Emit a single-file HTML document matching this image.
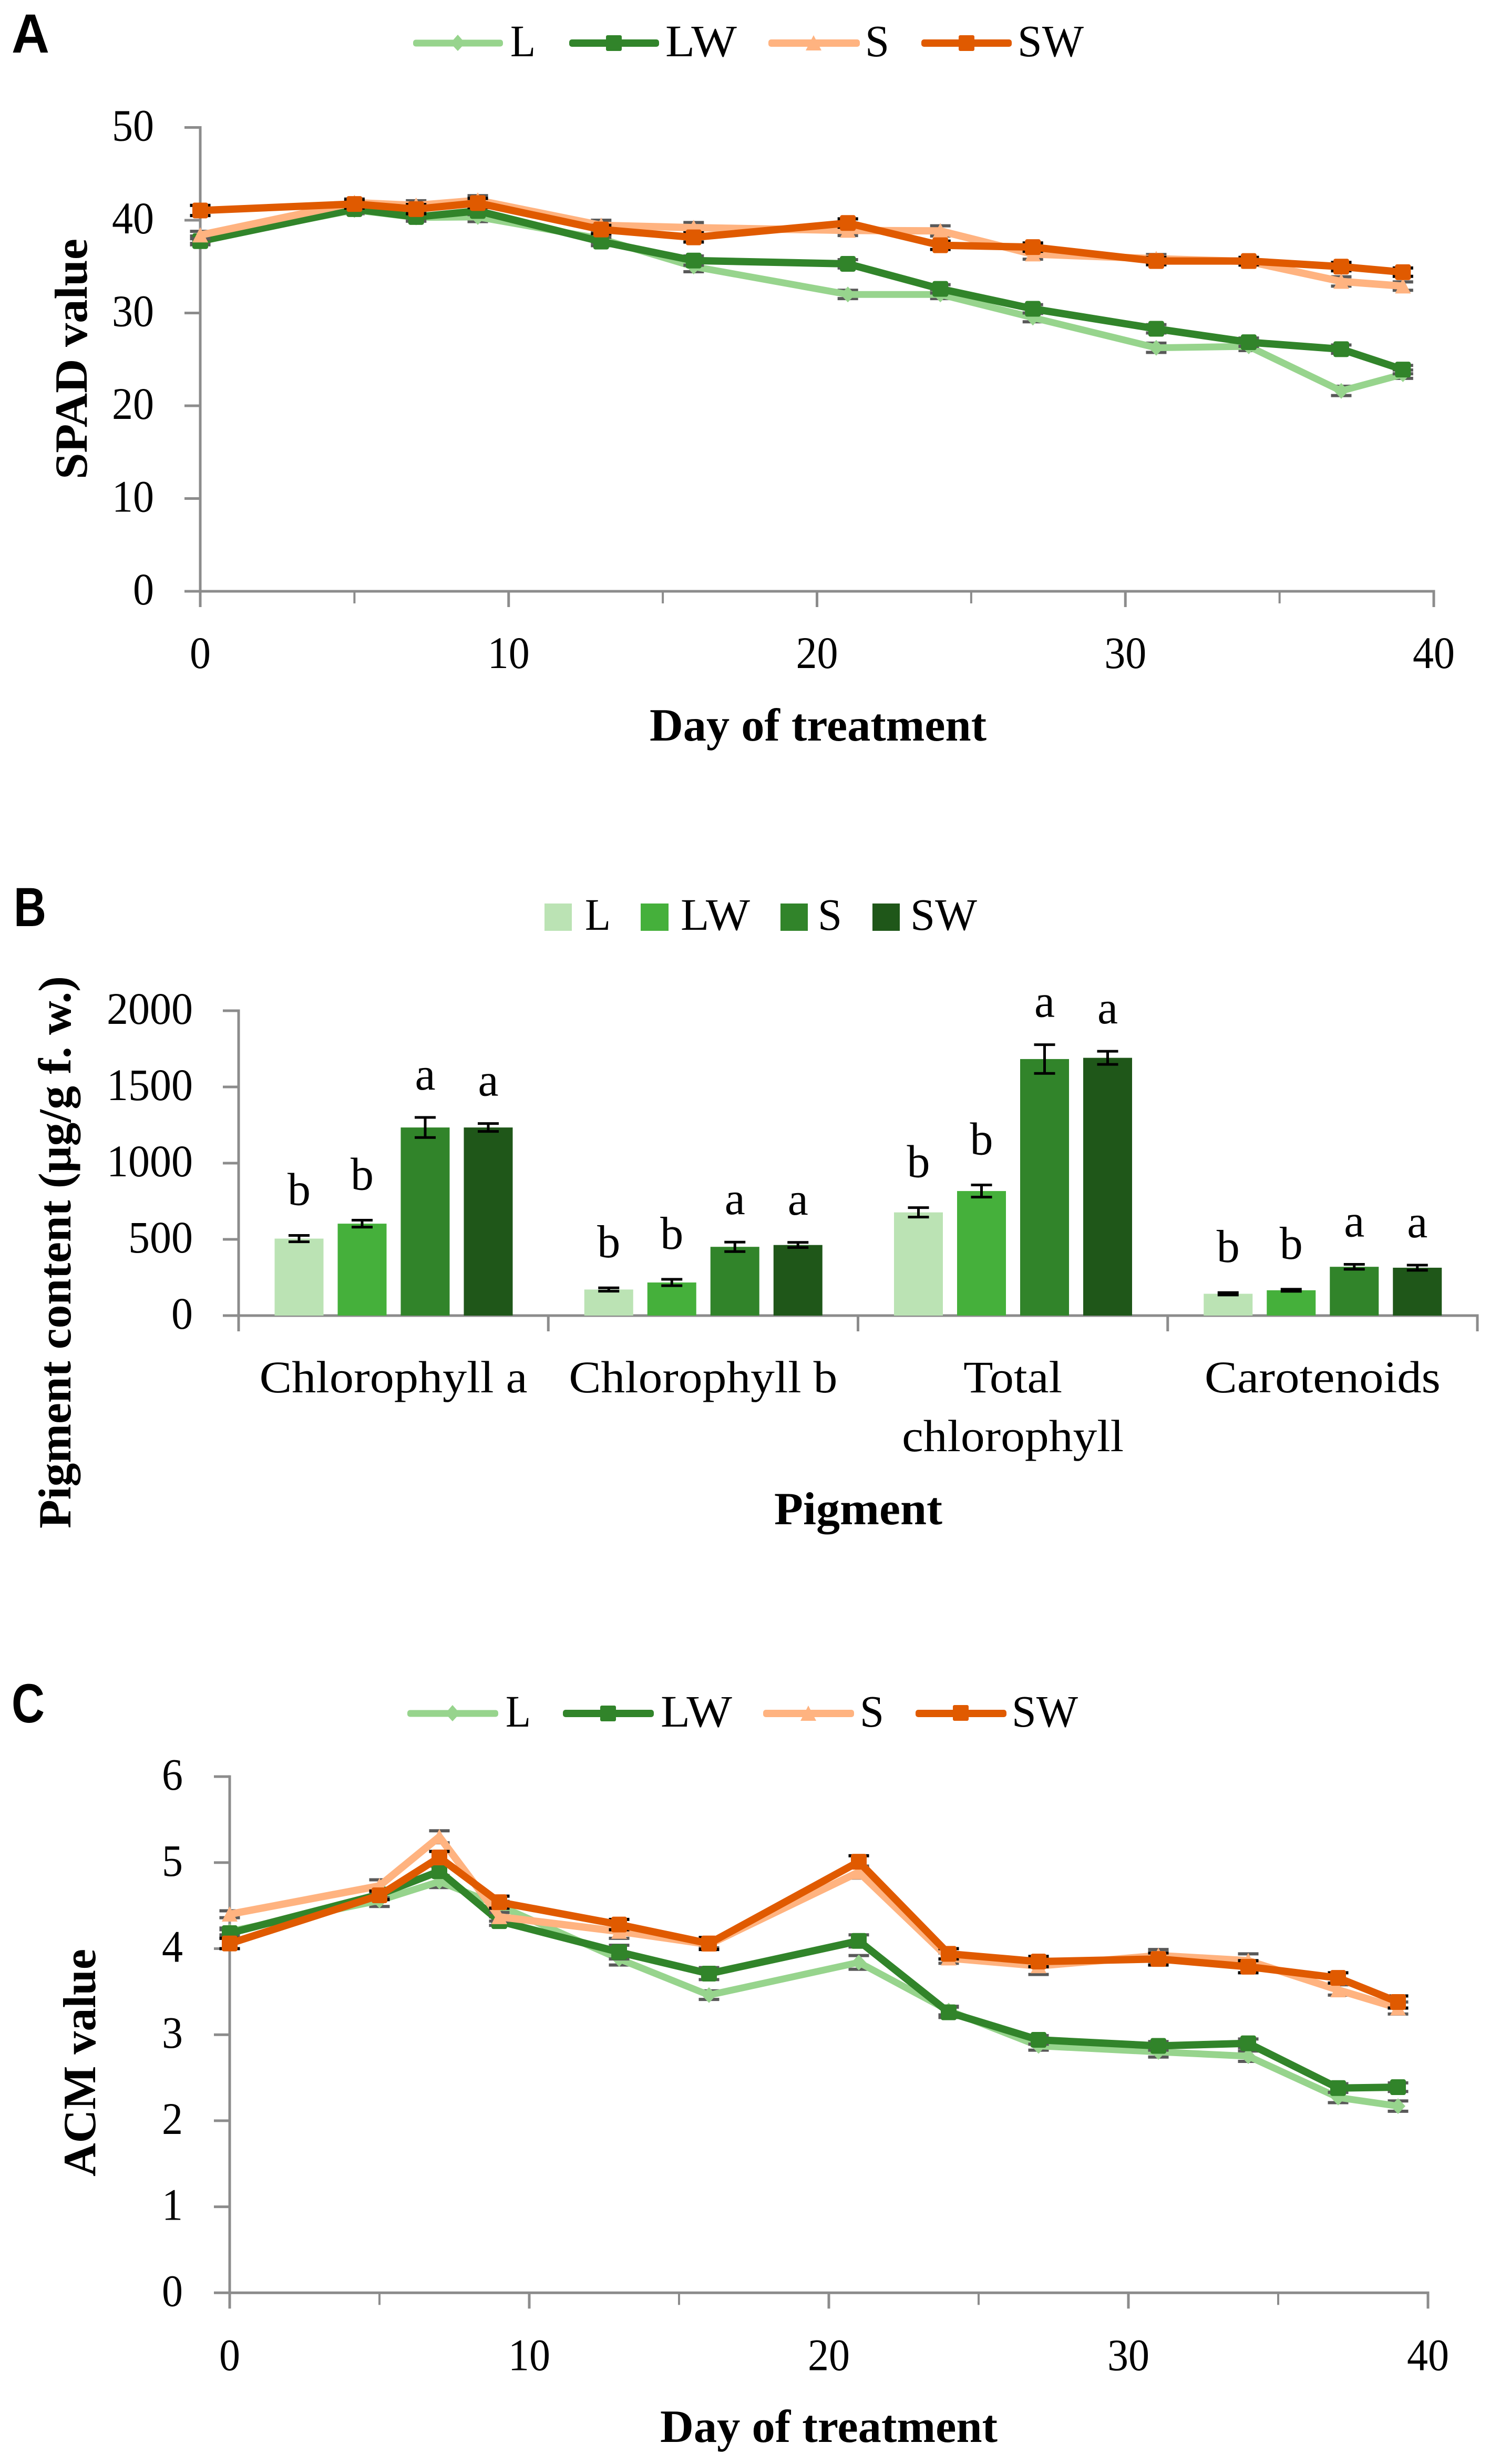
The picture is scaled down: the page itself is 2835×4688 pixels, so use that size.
<!DOCTYPE html>
<html lang="en">
<head>
<meta charset="utf-8">
<title>SPAD value, pigment content and ACM value by treatment</title>
<style>
html,body{margin:0;padding:0;background:#fff;}
svg{display:block;}
text{font-family:"Liberation Serif",serif;fill:#000;}
.panel-letter{font-family:"Liberation Sans",sans-serif;font-weight:700;font-size:105px;}
.axis-title{font-weight:700;font-size:88px;}
.legend-text,.tick-text{font-size:86px;}
</style>
</head>
<body>
<svg xmlns="http://www.w3.org/2000/svg" width="2835" height="4688" viewBox="0 0 2835 4688">
<rect width="2835" height="4688" fill="#fff"/>

<g id="panelA">
  <text class="panel-letter" x="22" y="100" textLength="72" lengthAdjust="spacingAndGlyphs">A</text>
  <g>
    <g>
      <rect x="786" y="75.5" width="171" height="13" rx="5" fill="#97d48d"/>
      <polygon points="871,66 885,82 871,97 857,82" fill="#97d48d"/>
      <text class="legend-text" x="971" y="107" textLength="48" lengthAdjust="spacingAndGlyphs">L</text>
    </g>
    <g>
      <rect x="1083" y="75" width="171" height="14" rx="5" fill="#31842a"/>
      <rect x="1153" y="67" width="30" height="30" rx="3" fill="#31842a"/>
      <text class="legend-text" x="1266" y="107" textLength="136" lengthAdjust="spacingAndGlyphs">LW</text>
    </g>
    <g>
      <rect x="1462" y="75" width="174" height="14" rx="5" fill="#ffb380"/>
      <polygon points="1548,67 1563,96 1533,96" fill="#ffb380"/>
      <text class="legend-text" x="1646" y="107" textLength="46" lengthAdjust="spacingAndGlyphs">S</text>
    </g>
    <g>
      <rect x="1753" y="75" width="172" height="14" rx="5" fill="#e05a00"/>
      <rect x="1824" y="67" width="30" height="30" rx="3" fill="#e05a00"/>
      <text class="legend-text" x="1936" y="107" textLength="126" lengthAdjust="spacingAndGlyphs">SW</text>
    </g>
  </g>
  <text class="axis-title" transform="translate(165,912) rotate(-90)" textLength="458" lengthAdjust="spacingAndGlyphs">SPAD value</text>
  <text class="axis-title" x="1236" y="1409" textLength="641" lengthAdjust="spacingAndGlyphs">Day of treatment</text>
</g>

<g id="panelB">
  <text class="panel-letter" x="26" y="1762" textLength="62" lengthAdjust="spacingAndGlyphs">B</text>
  <g>
    <g>
      <rect x="1036" y="1719" width="52" height="52" fill="#bbe3b4"/>
      <text class="legend-text" x="1113" y="1769" textLength="49" lengthAdjust="spacingAndGlyphs">L</text>
    </g>
    <g>
      <rect x="1219" y="1719" width="53" height="52" fill="#45b03b"/>
      <text class="legend-text" x="1295" y="1769" textLength="132" lengthAdjust="spacingAndGlyphs">LW</text>
    </g>
    <g>
      <rect x="1485" y="1719" width="52" height="52" fill="#31842a"/>
      <text class="legend-text" x="1556" y="1769" textLength="46" lengthAdjust="spacingAndGlyphs">S</text>
    </g>
    <g>
      <rect x="1660" y="1719" width="52" height="52" fill="#1f5719"/>
      <text class="legend-text" x="1732" y="1769" textLength="127" lengthAdjust="spacingAndGlyphs">SW</text>
    </g>
  </g>
  <text class="axis-title" transform="translate(134,2908) rotate(-90)" textLength="1051" lengthAdjust="spacingAndGlyphs">Pigment content (μg/g f. w.)</text>
  <text class="axis-title" x="1473" y="2900" textLength="320" lengthAdjust="spacingAndGlyphs">Pigment</text>
</g>

<g id="panelC">
  <text class="panel-letter" x="22" y="3277" textLength="63" lengthAdjust="spacingAndGlyphs">C</text>
  <g>
    <g>
      <rect x="775" y="3253.5" width="173" height="13" rx="5" fill="#97d48d"/>
      <polygon points="861,3244 875,3260 861,3275 847,3260" fill="#97d48d"/>
      <text class="legend-text" x="962" y="3285" textLength="48" lengthAdjust="spacingAndGlyphs">L</text>
    </g>
    <g>
      <rect x="1071" y="3253" width="173" height="14" rx="5" fill="#31842a"/>
      <rect x="1142" y="3245" width="30" height="30" rx="3" fill="#31842a"/>
      <text class="legend-text" x="1257" y="3285" textLength="136" lengthAdjust="spacingAndGlyphs">LW</text>
    </g>
    <g>
      <rect x="1452" y="3253" width="173" height="14" rx="5" fill="#ffb380"/>
      <polygon points="1538,3245 1553,3274 1523,3274" fill="#ffb380"/>
      <text class="legend-text" x="1636" y="3285" textLength="46" lengthAdjust="spacingAndGlyphs">S</text>
    </g>
    <g>
      <rect x="1742" y="3253" width="173" height="14" rx="5" fill="#e05a00"/>
      <rect x="1813" y="3244" width="30" height="30" rx="3" fill="#e05a00"/>
      <text class="legend-text" x="1925" y="3285" textLength="126" lengthAdjust="spacingAndGlyphs">SW</text>
    </g>
  </g>
  <text class="axis-title" transform="translate(181,4141) rotate(-90)" textLength="433" lengthAdjust="spacingAndGlyphs">ACM value</text>
  <text class="axis-title" x="1256" y="4646" textLength="642" lengthAdjust="spacingAndGlyphs">Day of treatment</text>
</g>
</svg>

<script>
// ---- Panel A: SPAD value ----
const spadDays = [0, 5, 7, 9, 13, 16, 21, 24, 27, 31, 34, 37, 39];
const spadL  = [37.9, 41.1, 40.3, 40.35, 38.0, 35.0, 32.0, 32.0, 29.5, 26.25, 26.4, 21.6, 23.4];
const spadLW = [37.75, 41.2, 40.35, 41.0, 37.7, 35.65, 35.3, 32.6, 30.45, 28.3, 26.85, 26.1, 23.9];
const spadS  = [38.4, 41.9, 41.6, 42.15, 39.45, 39.2, 38.9, 38.85, 36.35, 35.85, 35.55, 33.4, 32.9];
const spadSW = [41.05, 41.75, 41.2, 41.85, 39.0, 38.15, 39.7, 37.3, 37.1, 35.6, 35.6, 35.0, 34.4];
const spadErrL  = [0.4, 0.4, 0.4, 0.5, 0.4, 0.55, 0.45, 0.45, 0.45, 0.5, 0.45, 0.5, 0.45];
const spadErrLW = [0.4, 0.4, 0.45, 0.4, 0.45, 0.5, 0.45, 0.45, 0.45, 0.45, 0.45, 0.45, 0.45];
const spadErrS  = [0.4, 0.4, 0.5, 0.5, 0.55, 0.55, 0.55, 0.55, 0.55, 0.45, 0.4, 0.5, 0.45];
const spadErrSW = [0.55, 0.45, 0.5, 0.5, 0.45, 0.5, 0.45, 0.45, 0.45, 0.4, 0.4, 0.45, 0.45];
const spadYTicks = [0, 10, 20, 30, 40, 50];
const spadXTicks = [0, 10, 20, 30, 40];
const spadXMinorTicks = [5, 15, 25, 35];

// ---- Panel B: pigment content ----
const pigmentCategoryLines = [['Chlorophyll a'], ['Chlorophyll b'], ['Total', 'chlorophyll'], ['Carotenoids']];
const pigmentL  = [505, 171, 677, 143];
const pigmentLW = [603, 217, 817, 166];
const pigmentS  = [1234, 451, 1683, 320];
const pigmentSW = [1234, 463, 1691, 314];
const pigmentErrL  = [21, 11, 31, 8];
const pigmentErrLW = [23, 21, 40, 7];
const pigmentErrS  = [66, 31, 94, 16];
const pigmentErrSW = [26, 17, 43, 17];
const pigmentLettersL  = ['b', 'b', 'b', 'b'];
const pigmentLettersLW = ['b', 'b', 'b', 'b'];
const pigmentLettersS  = ['a', 'a', 'a', 'a'];
const pigmentLettersSW = ['a', 'a', 'a', 'a'];
const pigmentYTicks = [0, 500, 1000, 1500, 2000];

// ---- Panel C: ACM value ----
const acmDays = [0, 5, 7, 9, 13, 16, 21, 24, 27, 31, 34, 37, 39];
const acmL  = [4.20, 4.56, 4.78, 4.50, 3.88, 3.46, 3.84, 3.28, 2.87, 2.80, 2.75, 2.27, 2.17];
const acmLW = [4.18, 4.63, 4.90, 4.32, 3.96, 3.71, 4.09, 3.26, 2.94, 2.87, 2.90, 2.38, 2.39];
const acmS  = [4.40, 4.73, 5.30, 4.37, 4.20, 4.05, 4.89, 3.89, 3.80, 3.92, 3.86, 3.52, 3.31];
const acmSW = [4.06, 4.62, 5.06, 4.54, 4.28, 4.06, 5.01, 3.94, 3.85, 3.88, 3.79, 3.66, 3.38];
const acmErrL  = [0.04, 0.07, 0.07, 0.05, 0.07, 0.05, 0.08, 0.05, 0.05, 0.06, 0.06, 0.06, 0.06];
const acmErrLW = [0.04, 0.04, 0.06, 0.05, 0.08, 0.07, 0.07, 0.06, 0.05, 0.05, 0.05, 0.05, 0.05];
const acmErrS  = [0.04, 0.07, 0.07, 0.05, 0.08, 0.04, 0.07, 0.06, 0.1, 0.07, 0.08, 0.06, 0.07];
const acmErrSW = [0.06, 0.05, 0.07, 0.07, 0.06, 0.07, 0.07, 0.06, 0.06, 0.07, 0.07, 0.06, 0.07];
const acmYTicks = [0, 1, 2, 3, 4, 5, 6];
const acmXTicks = [0, 10, 20, 30, 40];
const acmXMinorTicks = [5, 15, 25, 35];

const NS = 'http://www.w3.org/2000/svg';
const AXIS_COLOR = '#8c8c8c';
const GRAY_ERR = '#595959';

function svgEl(tag, attrs, parent) {
  const el = document.createElementNS(NS, tag);
  for (const k in attrs) el.setAttribute(k, attrs[k]);
  parent.appendChild(el);
  return el;
}

function drawYAxis(parent, ticks, axisX, labelRight, yScale, digitWidth) {
  const axis = svgEl('line', {x1: axisX, x2: axisX, y1: yScale(ticks[ticks.length - 1]) - 2.5, y2: yScale(ticks[0]), stroke: AXIS_COLOR, 'stroke-width': 5}, parent);
  
  
  ticks.forEach(function (t) {
    const y = yScale(t);
    const tick = svgEl('line', {x1: axisX - 30, x2: axisX, y1: y, y2: y, stroke: AXIS_COLOR, 'stroke-width': 5}, parent);
    
    
    const s = String(t);
    const label = svgEl('text', {'class': 'tick-text', x: labelRight, y: y + 25, 'text-anchor': 'end', textLength: s.length * digitWidth, lengthAdjust: 'spacingAndGlyphs'}, parent);
    
    
    label.textContent = s;
  });
}

function drawXAxis(parent, ticks, minor, axisY, xScale, labelY) {
  const axis = svgEl('line', {x1: xScale(ticks[0]), x2: xScale(ticks[ticks.length - 1]) + 2.5, y1: axisY, y2: axisY, stroke: AXIS_COLOR, 'stroke-width': 5}, parent);
  
  
  ticks.forEach(function (t) {
    const x = xScale(t);
    const tick = svgEl('line', {x1: x, x2: x, y1: axisY, y2: axisY + 30, stroke: AXIS_COLOR, 'stroke-width': 5}, parent);
    
    
    const s = String(t);
    const label = svgEl('text', {'class': 'tick-text', x: x, y: labelY, 'text-anchor': 'middle', textLength: s.length * 40, lengthAdjust: 'spacingAndGlyphs'}, parent);
    
    
    label.textContent = s;
  });
  minor.forEach(function (t) {
    const x = xScale(t);
    const tick = svgEl('line', {x1: x, x2: x, y1: axisY, y2: axisY + 23, stroke: AXIS_COLOR, 'stroke-width': 4}, parent);
    
    
  });
}

function drawSeries(parent, days, values, errors, shape, color, width, errColor, xScale, yScale) {
  const group = svgEl('g', {}, parent);
  
  
  days.forEach(function (d, i) {
    const x = xScale(d);
    const top = yScale(values[i] + errors[i]);
    const bottom = yScale(values[i] - errors[i]);
    const err = svgEl('path', {d: 'M' + (x - 19.5) + ' ' + top + 'H' + (x + 19.5) + 'M' + (x - 19.5) + ' ' + bottom + 'H' + (x + 19.5) + 'M' + x + ' ' + top + 'V' + bottom, stroke: errColor, 'stroke-width': 6, fill: 'none'}, group);
    
    
  });
  const pts = days.map(function (d, i) { return xScale(d) + ',' + yScale(values[i]); }).join(' ');
  const line = svgEl('polyline', {points: pts, fill: 'none', stroke: color, 'stroke-width': width, 'stroke-linejoin': 'round', 'stroke-linecap': 'round'}, group);
  
  
  days.forEach(function (d, i) {
    const x = xScale(d);
    const y = yScale(values[i]);
    let marker;
    if (shape === 'diamond') {
      marker = svgEl('polygon', {points: x + ',' + (y - 15) + ' ' + (x + 14) + ',' + y + ' ' + x + ',' + (y + 15) + ' ' + (x - 14) + ',' + y, fill: color}, group);
    } else if (shape === 'triangle') {
      marker = svgEl('polygon', {points: x + ',' + (y - 15) + ' ' + (x + 15) + ',' + (y + 14) + ' ' + (x - 15) + ',' + (y + 14), fill: color}, group);
    } else {
      marker = svgEl('rect', {x: x - 15, y: y - 15, width: 30, height: 30, rx: 4, fill: color}, group);
    }
    
    
  });
}

function drawBarSeries(parent, values, errors, letters, slot, color, xScale, yScale) {
  values.forEach(function (v, i) {
    const x = xScale(i, slot);
    const y = yScale(v);
    const bar = svgEl('rect', {x: x, y: y, width: 93, height: yScale(0) - y, fill: color}, parent);
    
    
    const cx = x + 46.5;
    const top = yScale(v + errors[i]);
    const bottom = yScale(v - errors[i]);
    const err = svgEl('path', {d: 'M' + (cx - 20) + ' ' + top + 'H' + (cx + 20) + 'M' + (cx - 20) + ' ' + bottom + 'H' + (cx + 20) + 'M' + cx + ' ' + top + 'V' + bottom, stroke: '#000', 'stroke-width': 5, fill: 'none'}, parent);
    
    
    const gap = letters[i] === 'b' ? 58 : 53;
    const mark = svgEl('text', {x: cx, y: top - gap, 'text-anchor': 'middle', 'font-size': 88}, parent);
    
    
    mark.textContent = letters[i];
  });
}

// Panel A
(function () {
  const parent = document.getElementById('panelA');
  const x = function (d) { return 381 + d * 58.675; };
  const y = function (v) { return 1125 - v * 17.65; };
  drawYAxis(parent, spadYTicks, 381, 293, y, 40);
  drawXAxis(parent, spadXTicks, spadXMinorTicks, 1125, x, 1271);
  drawSeries(parent, spadDays, spadL, spadErrL, 'diamond', '#97d48d', 13, GRAY_ERR, x, y);
  drawSeries(parent, spadDays, spadLW, spadErrLW, 'square', '#31842a', 14, GRAY_ERR, x, y);
  drawSeries(parent, spadDays, spadS, spadErrS, 'triangle', '#ffb380', 14, GRAY_ERR, x, y);
  drawSeries(parent, spadDays, spadSW, spadErrSW, 'square', '#e05a00', 14, '#000', x, y);
})();

// Panel B
(function () {
  const parent = document.getElementById('panelB');
  const y = function (v) { return 2503 - v * 0.29; };
  const catLeft = function (i) { return 454 + i * 589.25; };
  const barX = function (i, slot) { return catLeft(i) + 68.5 + slot * 120; };
  const labelWidth = {'Chlorophyll a': 510, 'Chlorophyll b': 511, 'Total': 188, 'chlorophyll': 422, 'Carotenoids': 449};
  drawYAxis(parent, pigmentYTicks, 454, 367, y, 41);
  const axis = svgEl('line', {x1: 454, x2: catLeft(pigmentCategoryLines.length) + 2.5, y1: 2503, y2: 2503, stroke: AXIS_COLOR, 'stroke-width': 5}, parent);
  
  
  for (let i = 0; i <= pigmentCategoryLines.length; i++) {
    const tick = svgEl('line', {x1: catLeft(i), x2: catLeft(i), y1: 2503, y2: 2533, stroke: AXIS_COLOR, 'stroke-width': 5}, parent);
    
    
  }
  pigmentCategoryLines.forEach(function (lines, i) {
    lines.forEach(function (str, j) {
      const label = svgEl('text', {'class': 'tick-text', x: catLeft(i) + 294.6, y: 2649 + j * 112, 'text-anchor': 'middle', textLength: labelWidth[str], lengthAdjust: 'spacingAndGlyphs'}, parent);
      
      
      label.textContent = str;
    });
  });
  drawBarSeries(parent, pigmentL, pigmentErrL, pigmentLettersL, 0, '#bbe3b4', barX, y);
  drawBarSeries(parent, pigmentLW, pigmentErrLW, pigmentLettersLW, 1, '#45b03b', barX, y);
  drawBarSeries(parent, pigmentS, pigmentErrS, pigmentLettersS, 2, '#31842a', barX, y);
  drawBarSeries(parent, pigmentSW, pigmentErrSW, pigmentLettersSW, 3, '#1f5719', barX, y);
})();

// Panel C
(function () {
  const parent = document.getElementById('panelC');
  const x = function (d) { return 437 + d * 57; };
  const y = function (v) { return 4362.3 - v * 163.7; };
  drawYAxis(parent, acmYTicks, 437, 348, y, 40);
  drawXAxis(parent, acmXTicks, acmXMinorTicks, 4362.3, x, 4509.5);
  drawSeries(parent, acmDays, acmL, acmErrL, 'diamond', '#97d48d', 13, GRAY_ERR, x, y);
  drawSeries(parent, acmDays, acmLW, acmErrLW, 'square', '#31842a', 14, GRAY_ERR, x, y);
  drawSeries(parent, acmDays, acmS, acmErrS, 'triangle', '#ffb380', 14, GRAY_ERR, x, y);
  drawSeries(parent, acmDays, acmSW, acmErrSW, 'square', '#e05a00', 14, '#000', x, y);
})();
</script>
</body>
</html>
